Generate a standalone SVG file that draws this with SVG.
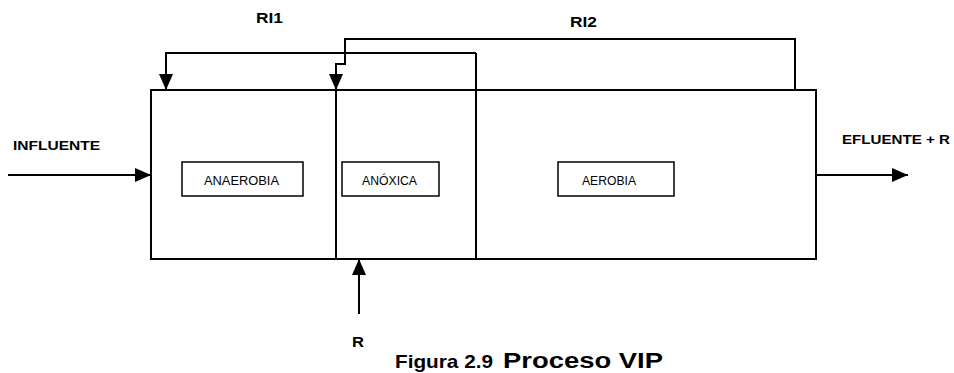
<svg xmlns="http://www.w3.org/2000/svg" width="954" height="373" viewBox="0 0 954 373">
<style>
.ln{fill:none;stroke:#000;stroke-width:2}
.bx{fill:#fff;stroke:#000;stroke-width:1.5}
.lb{font-family:"Liberation Sans",Arial,sans-serif;font-weight:bold;fill:#000}
.tx{font-family:"Liberation Sans",Arial,sans-serif;fill:#000;font-size:12px}
</style>
<defs>
<marker id="ah" viewBox="0 0 16 14" refX="16" refY="7" markerWidth="16" markerHeight="14" markerUnits="userSpaceOnUse" orient="auto">
<path d="M0,0 L16,7 L0,14 Z" fill="#000"/>
</marker>
</defs>
<rect width="954" height="373" fill="#fff"/>
<g id="reactor">
<rect class="ln" x="151" y="90" width="665" height="169"/>
<line class="ln" x1="336" y1="90" x2="336" y2="259"/>
<line class="ln" x1="476" y1="53" x2="476" y2="259"/>
</g>
<g id="anaerobia">
<rect class="bx" x="182" y="162" width="121" height="34"/>
<text class="tx" x="204" y="185" textLength="75" lengthAdjust="spacingAndGlyphs">ANAEROBIA</text>
</g>
<g id="anoxica">
<rect class="bx" x="342" y="162" width="97" height="34"/>
<text class="tx" x="362" y="185" textLength="55" lengthAdjust="spacingAndGlyphs">ANÓXICA</text>
</g>
<g id="aerobia">
<rect class="bx" x="558" y="162" width="116" height="34"/>
<text class="tx" x="582" y="185" textLength="54" lengthAdjust="spacingAndGlyphs">AEROBIA</text>
</g>
<g id="connectors">
<polyline class="ln" points="476,53 166,53 166,90" marker-end="url(#ah)"/>
<polyline class="ln" points="795,90 795,39 345,39 345,64 336,64 336,90" marker-end="url(#ah)"/>
<line class="ln" x1="8" y1="175" x2="151" y2="175" marker-end="url(#ah)"/>
<line class="ln" x1="816" y1="175" x2="908" y2="175" marker-end="url(#ah)"/>
<line class="ln" x1="359" y1="314" x2="359" y2="259" marker-end="url(#ah)"/>
</g>
<g id="labels">
<text class="lb" x="256" y="23" font-size="14" textLength="27" lengthAdjust="spacingAndGlyphs">RI1</text>
<text class="lb" x="570" y="27" font-size="14" textLength="27" lengthAdjust="spacingAndGlyphs">RI2</text>
<text class="lb" x="13" y="150" font-size="12" textLength="87" lengthAdjust="spacingAndGlyphs">INFLUENTE</text>
<text class="lb" x="842" y="144" font-size="12" textLength="108" lengthAdjust="spacingAndGlyphs">EFLUENTE + R</text>
<text class="lb" x="352" y="347" font-size="14" textLength="12" lengthAdjust="spacingAndGlyphs">R</text>
<text class="lb" x="395" y="368" font-size="19" textLength="98" lengthAdjust="spacingAndGlyphs">Figura 2.9</text>
<text class="lb" x="503" y="368" font-size="22" textLength="160" lengthAdjust="spacingAndGlyphs">Proceso VIP</text>
</g>
</svg>
